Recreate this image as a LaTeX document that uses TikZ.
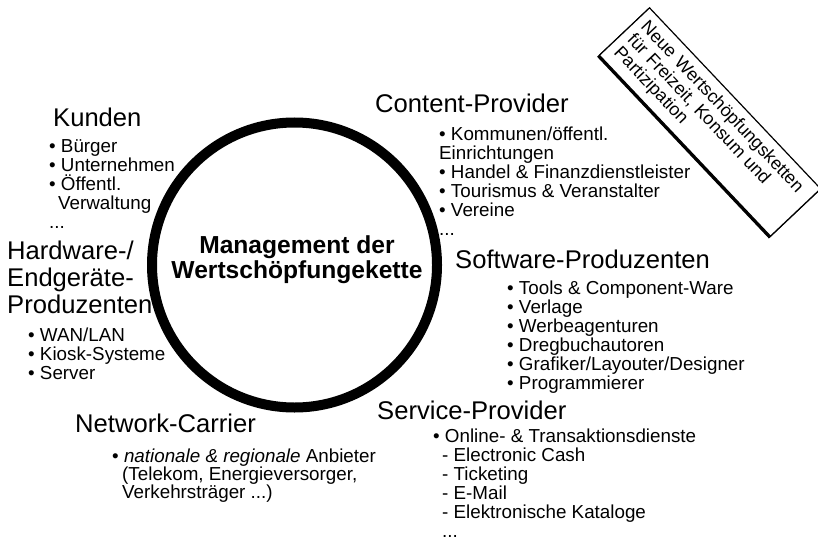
\documentclass[tikz,border=0pt]{standalone}
\usepackage{fontspec}
\setmainfont{Liberation Sans}
\usetikzlibrary{positioning}

\begin{document}
\begin{tikzpicture}[x=1pt,y=-1pt,every node/.style={inner sep=0pt},
  head/.style={anchor=base west,align=left,font=\fontsize{25.6}{27}\selectfont},
  items/.style={anchor=base west,align=left,font=\fontsize{18.8}{19}\selectfont},
  boxst/.style={draw,line width=1.2pt,rotate=-46.6,minimum width=249pt,minimum height=69pt}]
\useasboundingbox (0,0) rectangle (818,540);
% Kreis in der Mitte
\node[draw,circle,line width=10pt,minimum size=285pt] (kreis) at (294.5,265) {};
% (mehrzeilige Knoten: Koordinate = Grundlinie der letzten Zeile)
\node[anchor=base,align=center,font=\fontsize{24.6}{25}\selectfont\bfseries] (mitte) at (297,278)
  {Management der\\Wertschöpfungekette};
% Kunden
\node[head] (kunden) at (53,127) {Kunden};
\node[items] (kundenL) at (49,228) {• Bürger\\• Unternehmen\\• Öffentl.\\\hspace*{9pt}Verwaltung\\...};
% Hardware
\node[head] (hw) at (7,313) {Hardware-/\\Endgeräte-\\Produzenten};
\node[items] (hwL) at (28,379) {• WAN/LAN\\• Kiosk-Systeme\\• Server};
% Network
\node[head] (net) at (75,432) {Network-Carrier};
\node[items,font=\fontsize{18.8}{18}\selectfont] (netL) at (112,498)
  {• \textit{nationale \& regionale} Anbieter\\\hspace*{10pt}(Telekom, Energieversorger,\\\hspace*{10pt}Verkehrsträger ...)};
% Content
\node[head] (cont) at (375,113) {Content-Provider};
\node[items] (contL) at (439,235) {• Kommunen/öffentl.\\Einrichtungen\\• Handel \& Finanzdienstleister\\• Tourismus \& Veranstalter\\• Vereine\\...};
% Software
\node[head] (soft) at (455,268) {Software-Produzenten};
\node[items] (softL) at (507,389) {• Tools \& Component-Ware\\• Verlage\\• Werbeagenturen\\• Dregbuchautoren\\• Grafiker/Layouter/Designer\\• Programmierer};
% Service
\node[head] (serv) at (377,419) {Service-Provider};
\node[items] (servL) at (433,537) {• Online- \& Transaktionsdienste\\\hspace*{9pt}- Electronic Cash\\\hspace*{9pt}- Ticketing\\\hspace*{9pt}- E-Mail\\\hspace*{9pt}- Elektronische Kataloge\\\hspace*{9pt}...};
% Kasten oben rechts
\node[boxst,fill=black] (kastenS) at (708.5,123.5) {};
\node[boxst,fill=white,inner xsep=8pt,inner ysep=5pt,text width=233pt,align=left,font=\fontsize{18}{18.5}\selectfont] (kasten) at (710,122)
  {Neue Wertschöpfungsketten\\für Freizeit, Konsum und\\Partizipation};
\end{tikzpicture}
\end{document}
